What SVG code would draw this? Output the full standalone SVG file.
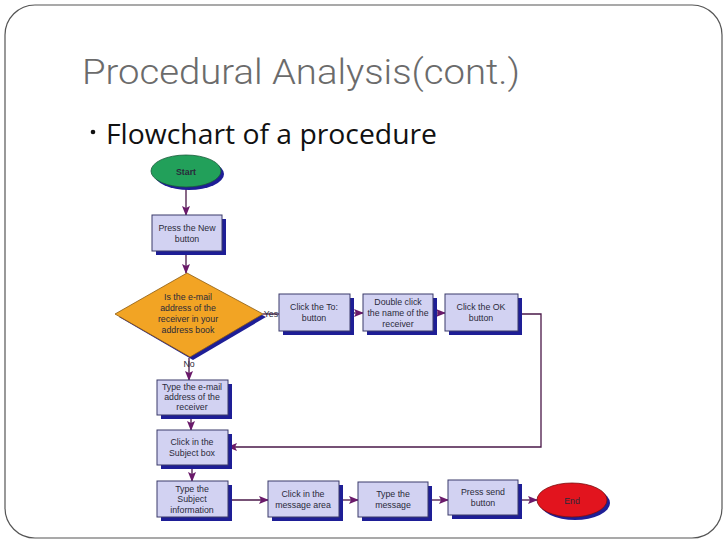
<svg xmlns="http://www.w3.org/2000/svg" width="728" height="546" viewBox="0 0 728 546">
<defs>
<style>
.box{fill:#d2d2f2;stroke:#3a3a6a;stroke-width:1}
.sh{fill:#1e1e96}
.t{font-family:"Liberation Sans",Arial,sans-serif;font-size:8.8px;fill:#2a2a3a;text-anchor:middle}
.c{fill:none;stroke:#4a1848;stroke-width:1.3}
</style>
<marker id="ah" markerWidth="10" markerHeight="8" refX="9" refY="4" orient="auto" markerUnits="userSpaceOnUse">
<path d="M0,0 L10,4 L0,8 L2,4 Z" fill="#6a1a6a"/>
</marker>
</defs>
<rect x="0" y="0" width="728" height="546" fill="#ffffff"/>
<rect x="5" y="5" width="717" height="533" rx="30" ry="30" fill="none" stroke="#555" stroke-width="1.2"/>
<text x="82" y="84" font-family="Roboto,'Liberation Sans',sans-serif" font-weight="300" font-size="35" fill="#6b6b6b" textLength="438" lengthAdjust="spacingAndGlyphs">Procedural Analysis(cont.)</text>
<circle cx="93" cy="132" r="2.3" fill="#111"/>
<text x="106" y="144" font-family="'Open Sans','Liberation Sans',sans-serif" font-size="27" fill="#111" textLength="331" lengthAdjust="spacingAndGlyphs">Flowchart of a procedure</text>

<g id="connectors">
<line class="c" x1="186" y1="188" x2="186" y2="215" marker-end="url(#ah)"/>
<line class="c" x1="186" y1="251" x2="186" y2="273" marker-end="url(#ah)"/>
<line class="c" x1="189" y1="358" x2="189" y2="380" marker-end="url(#ah)"/>
<line class="c" x1="191" y1="415" x2="191" y2="430" marker-end="url(#ah)"/>
<line class="c" x1="192" y1="469" x2="192" y2="481" marker-end="url(#ah)"/>
<line class="c" x1="263" y1="314" x2="279" y2="314" />
<line class="c" x1="350" y1="313" x2="363" y2="313" marker-end="url(#ah)"/>
<line class="c" x1="433" y1="313" x2="445" y2="313" marker-end="url(#ah)"/>
<polyline class="c" points="518,314 541,314 541,447 228,447" marker-end="url(#ah)"/>
<line class="c" x1="228" y1="500" x2="268" y2="500" marker-end="url(#ah)"/>
<line class="c" x1="339" y1="500" x2="358" y2="500" marker-end="url(#ah)"/>
<line class="c" x1="428" y1="500" x2="448" y2="500" marker-end="url(#ah)"/>
<line class="c" x1="518" y1="500" x2="537" y2="500" marker-end="url(#ah)"/>
</g>

<g id="start">
<ellipse cx="189" cy="174" rx="35" ry="16" class="sh"/>
<ellipse cx="186" cy="171" rx="35" ry="16" fill="#22a05a" stroke="#1a5a3a" stroke-width="0.8"/>
<text x="186" y="175" class="t" font-weight="bold" font-size="9.5px" fill="#103020">Start</text>
</g>

<g id="press-new">
<rect x="156" y="219" width="70" height="36" class="sh"/>
<rect x="152" y="215" width="70" height="36" class="box"/>
<text x="187" y="231" class="t">Press the New</text>
<text x="187" y="242" class="t">button</text>
</g>

<g id="decision">
<polygon points="190,277 266,317 193,360 119,317" class="sh"/>
<polygon points="187,273 263,314 190,357 115,314" fill="#f2a424" stroke="#8a5a10" stroke-width="0.8"/>
<text x="188" y="300" class="t">Is the e-mail</text>
<text x="188" y="311" class="t">address of the</text>
<text x="188" y="322" class="t">receiver in your</text>
<text x="188" y="333" class="t">address book</text>
<text x="271" y="317" class="t">Yes</text>
<text x="189" y="367" class="t" font-size="7.5px">No</text>
</g>

<g id="click-to">
<rect x="283" y="298" width="71" height="37" class="sh"/>
<rect x="279" y="294" width="71" height="37" class="box"/>
<text x="314" y="310" class="t">Click the To:</text>
<text x="314" y="321" class="t">button</text>
</g>

<g id="double-click">
<rect x="367" y="298" width="70" height="37" class="sh"/>
<rect x="363" y="294" width="70" height="37" class="box"/>
<text x="398" y="305" class="t">Double click</text>
<text x="398" y="316" class="t">the name of the</text>
<text x="398" y="327" class="t">receiver</text>
</g>

<g id="click-ok">
<rect x="449" y="298" width="73" height="37" class="sh"/>
<rect x="445" y="294" width="73" height="37" class="box"/>
<text x="481" y="310" class="t">Click the OK</text>
<text x="481" y="321" class="t">button</text>
</g>

<g id="type-email">
<rect x="161" y="384" width="71" height="35" class="sh"/>
<rect x="157" y="380" width="71" height="35" class="box"/>
<text x="192" y="390" class="t">Type the e-mail</text>
<text x="192" y="400" class="t">address of the</text>
<text x="192" y="410" class="t">receiver</text>
</g>

<g id="click-subject">
<rect x="161" y="434" width="71" height="35" class="sh"/>
<rect x="157" y="430" width="71" height="35" class="box"/>
<text x="192" y="445" class="t">Click in the</text>
<text x="192" y="456" class="t">Subject box</text>
</g>

<g id="type-subject">
<rect x="161" y="485" width="71" height="36" class="sh"/>
<rect x="157" y="481" width="71" height="36" class="box"/>
<text x="192" y="492" class="t">Type the</text>
<text x="192" y="502" class="t">Subject</text>
<text x="192" y="513" class="t">information</text>
</g>

<g id="click-message">
<rect x="272" y="485" width="71" height="36" class="sh"/>
<rect x="268" y="481" width="71" height="36" class="box"/>
<text x="303" y="497" class="t">Click in the</text>
<text x="303" y="508" class="t">message area</text>
</g>

<g id="type-message">
<rect x="362" y="486" width="70" height="35" class="sh"/>
<rect x="358" y="482" width="70" height="35" class="box"/>
<text x="393" y="497" class="t">Type the</text>
<text x="393" y="508" class="t">message</text>
</g>

<g id="press-send">
<rect x="452" y="484" width="70" height="35" class="sh"/>
<rect x="448" y="480" width="70" height="35" class="box"/>
<text x="483" y="495" class="t">Press send</text>
<text x="483" y="506" class="t">button</text>
</g>

<g id="end">
<ellipse cx="575" cy="503" rx="35" ry="17" class="sh"/>
<ellipse cx="572" cy="500" rx="35" ry="17" fill="#e2141e" stroke="#7a1010" stroke-width="0.8"/>
<text x="572" y="504" class="t" font-size="9.5px" fill="#3a0a0a">End</text>
</g>
</svg>
